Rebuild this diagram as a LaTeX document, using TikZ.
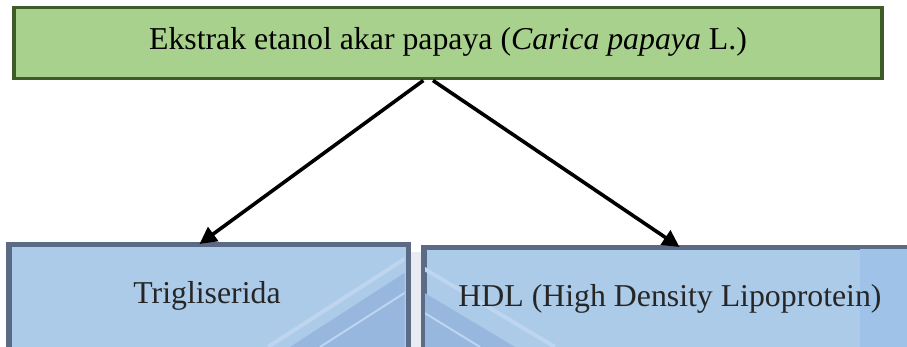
\documentclass[tikz,border=0pt]{standalone}
\usepackage{fontspec}
\setmainfont{Liberation Serif}
\usetikzlibrary{arrows.meta,calc}
\definecolor{topfill}{HTML}{A9D18E}
\definecolor{topline}{HTML}{3E5C26}
\definecolor{lowfill}{HTML}{ACCBE9}
\definecolor{lowline}{HTML}{5B6B85}
\definecolor{lowdark}{HTML}{97B7DF}
\definecolor{lowlight}{HTML}{BDD5EE}
\definecolor{stripblue}{HTML}{9FC3E8}
\definecolor{gapgray}{HTML}{E9EBF2}
\tikzset{
  topbox/.style={draw=topline, fill=topfill, line width=3.5pt, rectangle, inner sep=0pt},
  lowbox/.style={draw=lowline, fill=lowfill, line width=3.5pt, rectangle, inner sep=0pt},
  txt/.style={font=\fontsize{31.8}{36}\selectfont, inner sep=0pt, anchor=base},
  conn/.style={line width=3.6pt, -{Triangle[length=17pt,width=17pt]}}
}
\begin{document}
\begin{tikzpicture}[x=1pt,y=-1pt]
\useasboundingbox (0,0) rectangle (907,347);
\clip (0,0) rectangle (907,347);
% top box
\node[topbox, minimum width=868pt, minimum height=71pt, anchor=north west] (top) at (12,6) {};
\node[txt, text=black] (toptext) at (448,50) {Ekstrak etanol akar papaya (\textit{Carica papaya} L.)};
% gap between lower boxes
\fill[gapgray] (407,252) rectangle (422,347);
% left box
\node[lowbox, minimum width=398pt, minimum height=140pt, anchor=north west] (trig) at (8,244) {};
\begin{scope}
  \clip (9.5,245.5) rectangle (404.5,347);
  \fill[lowdark] (290,347) -- (406,272) -- (406,347) -- cycle;
  \draw[lowlight, line width=4pt] (268,347) -- (406,258);
  \draw[lowlight, line width=2pt] (320,347) -- (406,292);
\end{scope}
\draw[lowline, line width=3.5pt] (trig.north west) rectangle (trig.south east);
\node[txt, text=black!85] (trigtext) at (207,303) {Trigliserida};
% right box
\node[lowbox, minimum width=520pt, minimum height=140pt, anchor=north west] (hdl) at (423,247) {};
\begin{scope}
  \clip (424.5,248.5) rectangle (940,347);
  \fill[stripblue] (860,248) rectangle (940,347);
  \fill[lowdark] (423,292) -- (515,347) -- (423,347) -- cycle;
  \draw[lowlight, line width=4pt] (423,268) -- (555,347);
  \draw[lowlight, line width=2pt] (423,312) -- (480,347);
\end{scope}
\draw[lowline, line width=3.5pt] (hdl.north west) rectangle (hdl.south east);
\node[txt, text=black!85] (hdltext) at (670,306) {HDL (High Density Lipoprotein)};
% connectors
\coordinate (s1) at ($(top.south west)!0.472!(top.south east)$);
\coordinate (s2) at ($(top.south west)!0.483!(top.south east)$);
\coordinate (e1) at ($(trig.north west)!0.477!(trig.north east)$);
\coordinate (e2) at ($(hdl.north west)!0.490!(hdl.north east)$);
\draw[conn] (s1) -- (e1);
\draw[conn] (s2) -- (e2);
\end{tikzpicture}
\end{document}
